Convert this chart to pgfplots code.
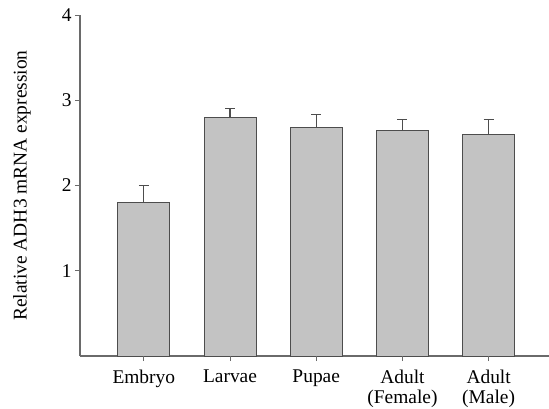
\documentclass[border=0pt]{standalone}
\usepackage{pgfplots}
\pgfplotsset{compat=1.18}
\usepackage{fontspec}
\setmainfont{Liberation Serif}
\definecolor{barfill}{HTML}{C3C3C3}
\definecolor{baredge}{HTML}{4D4D4D}
\definecolor{axgray}{HTML}{6A6A6A}
\begin{document}
\begin{tikzpicture}
\begin{axis}[
  at={(0,0)}, anchor=south west,
  scale only axis, width=469bp, height=341bp,
  xmin=-0.74, xmax=4.70, ymin=0, ymax=4,
  axis x line=bottom, axis y line=left,
  axis line style={axgray, line width=1.2pt, -},
  xtick={0,1,2,3,4},
  xticklabels={Embryo, Larvae, Pupae, Adult\\(Female), Adult\\(Male)},
  xticklabel style={align=center, anchor=north, yshift=-5bp, font=\fontsize{19.5}{21}\selectfont},
  ytick={1,2,3,4},
  yticklabel style={font=\fontsize{19.5}{21}\selectfont},
  /pgf/number format/assume math mode=true,
  tick style={axgray, line width=1pt},
  xtick pos=bottom,
  tick align=outside,
  major tick length=5bp,
  every axis y label/.style={at={(axis description cs:0,0.5)}, xshift=-58bp, rotate=90, anchor=center, font=\fontsize{19.5}{21}\selectfont},
  ylabel={Relative ADH3 mRNA expression},
  clip=false,
]
\addplot[ybar, bar width=52bp, fill=barfill, draw=baredge, line width=1pt,
  error bars/.cd, y dir=plus, y explicit,
  error bar style={baredge, line width=1.2pt},
  error mark options={baredge, line width=1.2pt, mark size=5bp, rotate=90}]
  table[x=x, y=y, y error=e] {
x y e
0 1.80 0.20
1 2.80 0.10
2 2.68 0.15
3 2.64 0.13
4 2.60 0.17
};
% small tick marks below the baseline at the category positions
\addplot[ycomb, no marks, axgray, line width=1pt] table[x=x, y=y] {
x y
0 -0.055
1 -0.055
2 -0.055
3 -0.055
4 -0.055
};
\end{axis}
\pgfresetboundingbox
\path[use as bounding box] (-80bp,-53bp) rectangle (469bp,356bp);
\end{tikzpicture}
\end{document}
